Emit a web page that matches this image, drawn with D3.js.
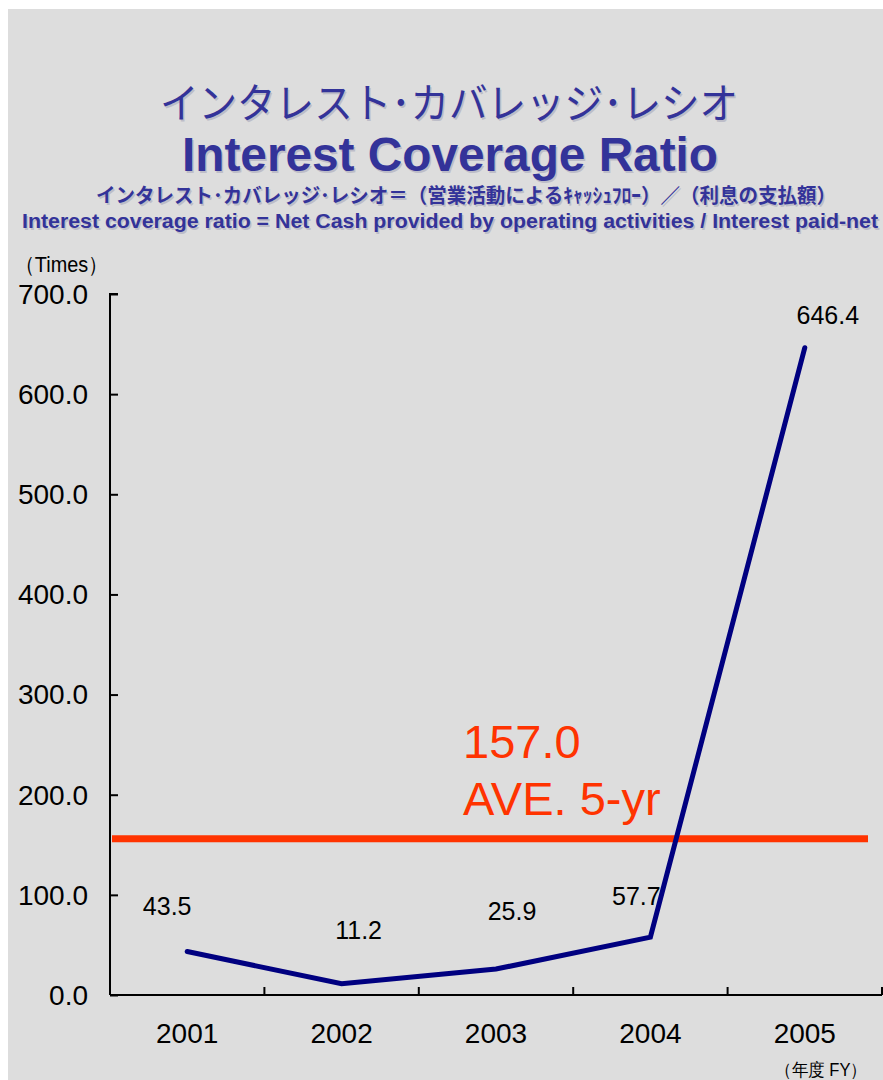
<!DOCTYPE html>
<html>
<head>
<meta charset="utf-8">
<script src="https://cdn.jsdelivr.net/npm/d3@7"></script>
<style>
  html, body { margin: 0; padding: 0; background: #ffffff; }
  svg { display: block; }
</style>
</head>
<body>
<script>
// ---- data ----
const years = ["2001", "2002", "2003", "2004", "2005"];
const ratios = [43.5, 11.2, 25.9, 57.7, 646.4];
const ratioLabels = ["43.5", "11.2", "25.9", "57.7", "646.4"];
const average = 157.0;
const averageLabels = ["157.0", "AVE. 5-yr"];
const yTicks = [0, 100, 200, 300, 400, 500, 600, 700];
const titleJa = "インタレスト･カバレッジ･レシオ";
const titleEn = "Interest Coverage Ratio";
const subJa = "インタレスト･カバレッジ･レシオ＝（営業活動によるｷｬｯｼｭﾌﾛｰ）／（利息の支払額）";
const subEn = "Interest coverage ratio = Net Cash provided by operating activities / Interest paid-net";
const unitLabel = "（Times）";
const xUnitLabel = "（年度 FY）";
// label placement offsets (px) for each point label
const labelOffsets = [[-20, -36], [17, -45], [16, -49], [-14, -32], [23, -24]];

(function () {
// ---- layout ----
const W = 883, H = 1080;
const pLeft = 110, pRight = 882, pTop = 294, pBottom = 995;
const sans = "'Liberation Sans', Arial, sans-serif";
const jp = "'Noto Sans CJK JP', sans-serif";

const svg = d3.select("body").append("svg").attr("width", W).attr("height", H);
svg.append("rect").attr("x", 8).attr("y", 9).attr("width", W - 8).attr("height", H - 9).attr("fill", "#dddddd");

const x = d3.scaleBand().domain(years).range([pLeft, pRight]).padding(0);
const y = d3.scaleLinear().domain([0, 700]).range([pBottom, pTop]);

// ---- titles ----
function shadowText(txt, cx, by, size, weight, family, len) {
  [[1.5, 1.5, "#bdbdc8"], [0, 0, "#333399"]].forEach(([dx, dy, col]) => {
    svg.append("text").attr("x", cx + dx).attr("y", by + dy)
      .attr("text-anchor", "middle").attr("font-family", family)
      .attr("font-size", size).attr("font-weight", weight)
      .attr("textLength", len).attr("lengthAdjust", "spacingAndGlyphs")
      .attr("fill", col).text(txt);
  });
}
shadowText(titleJa, 449, 118, 41, "normal", jp, 578);
shadowText(titleEn, 450, 171, 48, "bold", sans, 536);
shadowText(subJa, 466, 203, 20, "bold", jp, 740);
shadowText(subEn, 450, 228, 20, "bold", sans, 856);

// ---- axes ----
const yAxis = svg.append("g").attr("transform", `translate(${pLeft},0)`)
  .call(d3.axisRight(y).tickValues(yTicks).tickSize(8).tickFormat(""));
yAxis.select(".domain").attr("d", `M8,${pTop}H0V${pBottom}`);
yAxis.selectAll("path, line").attr("stroke", "#000").attr("stroke-width", 2);

svg.append("g").selectAll("text").data(yTicks).join("text")
  .attr("x", 88).attr("y", d => y(d)).attr("dy", "0.35em")
  .attr("text-anchor", "end").attr("font-family", sans).attr("font-size", 28)
  .attr("fill", "#000").text(d => d3.format(".1f")(d));

const xAxis = svg.append("g").attr("transform", `translate(0,${pBottom})`)
  .call(d3.axisTop(x).tickSize(0).tickFormat(""));
xAxis.select(".domain").attr("d", `M${pLeft},0H${pRight}`).attr("stroke", "#000").attr("stroke-width", 2);
svg.append("g").selectAll("line").data(years).join("line")
  .attr("x1", d => x(d) + x.bandwidth()).attr("x2", d => x(d) + x.bandwidth())
  .attr("y1", pBottom).attr("y2", pBottom - 8).attr("stroke", "#000").attr("stroke-width", 2);

svg.append("g").selectAll("text").data(years).join("text")
  .attr("x", d => x(d) + x.bandwidth() / 2).attr("y", 1043)
  .attr("text-anchor", "middle").attr("font-family", sans).attr("font-size", 28)
  .attr("fill", "#000").text(d => d);

svg.append("text").attr("x", 15).attr("y", 272).attr("font-family", sans)
  .attr("font-size", 22).attr("textLength", 93).attr("lengthAdjust", "spacingAndGlyphs")
  .attr("fill", "#000").text(unitLabel);
svg.append("text").attr("x", 775).attr("y", 1076).attr("font-family", sans)
  .attr("font-size", 18).attr("textLength", 92).attr("lengthAdjust", "spacingAndGlyphs")
  .attr("fill", "#000").text(xUnitLabel);

// ---- average line ----
svg.append("line").attr("x1", 112).attr("x2", 868)
  .attr("y1", y(average) + 1).attr("y2", y(average) + 1)
  .attr("stroke", "#ff3300").attr("stroke-width", 7);
svg.append("g").selectAll("text").data(averageLabels).join("text")
  .attr("x", 463).attr("y", (d, i) => 758 + i * 57)
  .attr("font-family", sans).attr("font-size", 47).attr("fill", "#ff3300").text(d => d);

// ---- ratio line ----
const line = d3.line().x((d, i) => x(years[i]) + x.bandwidth() / 2).y(d => y(d));
svg.append("path").datum(ratios).attr("d", line)
  .attr("fill", "none").attr("stroke", "#000080").attr("stroke-width", 5)
  .attr("stroke-linecap", "round").attr("stroke-linejoin", "miter");

svg.append("g").selectAll("text").data(ratios).join("text")
  .attr("x", (d, i) => x(years[i]) + x.bandwidth() / 2 + labelOffsets[i][0])
  .attr("y", (d, i) => y(d) + labelOffsets[i][1])
  .attr("text-anchor", "middle").attr("font-family", sans).attr("font-size", 25)
  .attr("fill", "#000").text((d, i) => ratioLabels[i]);
})();
</script>
</body>
</html>
